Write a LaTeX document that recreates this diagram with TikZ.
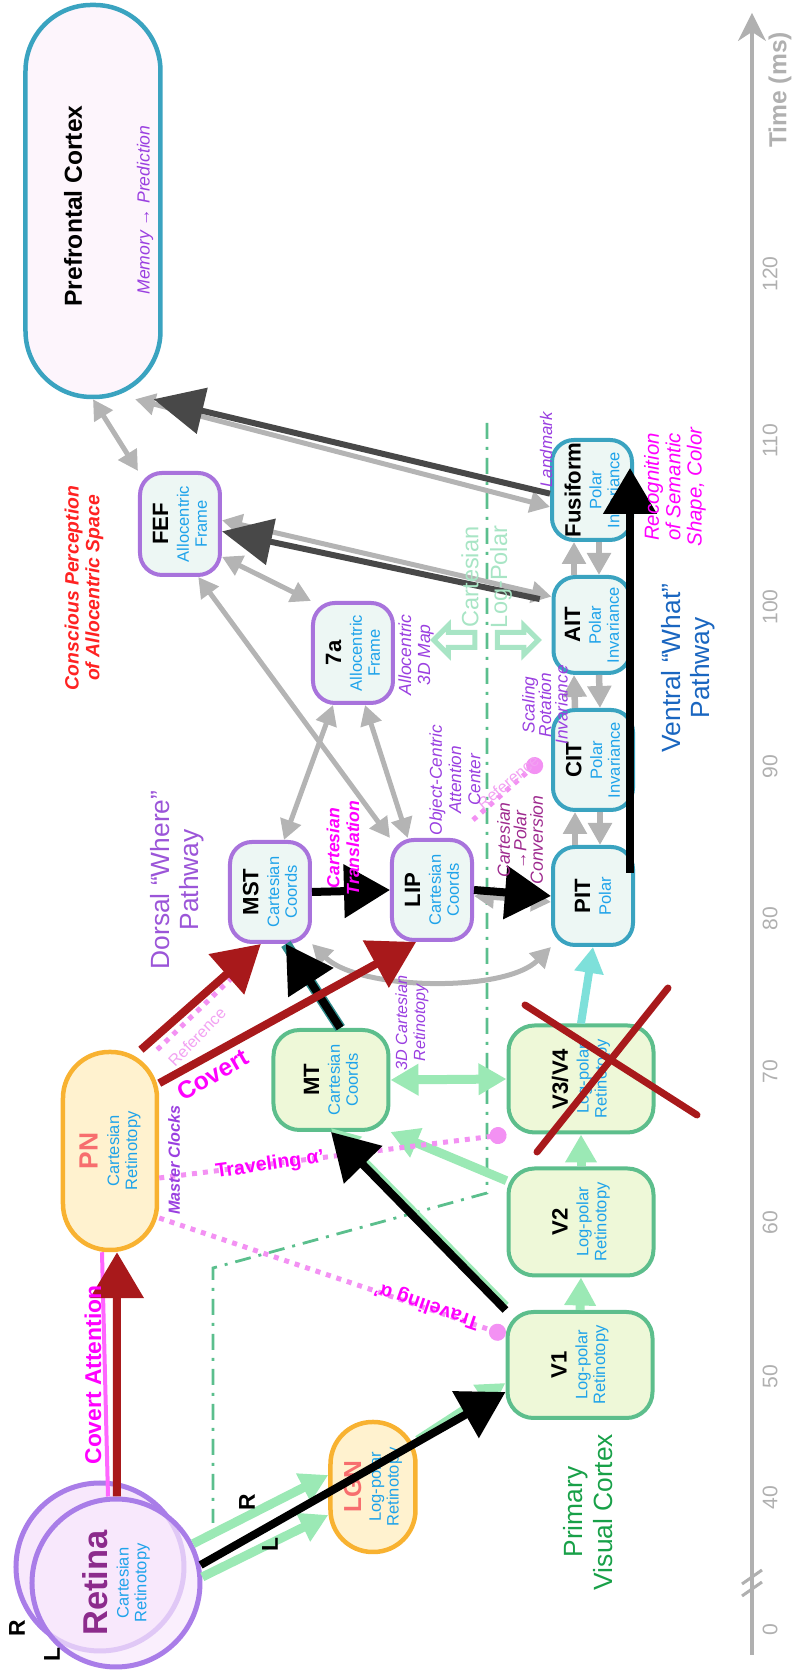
\documentclass[tikz,border=0pt]{standalone}
\usepackage{fontspec}
\setmainfont{Liberation Sans}
\usetikzlibrary{arrows.meta,shapes.arrows}

\definecolor{dorsalC}{HTML}{A873DC}
\definecolor{ventralC}{HTML}{3AA3C0}
\definecolor{earlyC}{HTML}{5DBE8C}
\definecolor{earlyF}{HTML}{EEF8D8}
\definecolor{boxF}{HTML}{EDF7F4}
\definecolor{pnC}{HTML}{F8B231}
\definecolor{pnF}{HTML}{FFF2CF}
\definecolor{pfcF}{HTML}{FDF5FC}
\definecolor{subC}{HTML}{1FA3EA}
\definecolor{retC}{HTML}{A97DE8}
\definecolor{retF}{HTML}{F8E8FC}
\definecolor{retT}{HTML}{8C2B8C}
\definecolor{salmon}{HTML}{F76E6E}
\definecolor{lblPurple}{HTML}{9A3FE0}
\definecolor{lblMag}{HTML}{FF00FF}
\definecolor{convC}{HTML}{9E2A8E}
\definecolor{dotPink}{HTML}{F391F3}
\definecolor{refPink}{HTML}{F2A2F2}
\definecolor{pvcGreen}{HTML}{18A048}
\definecolor{dorsalT}{HTML}{9B55D8}
\definecolor{ventralT}{HTML}{1A66C0}
\definecolor{conscRed}{HTML}{FF2222}
\definecolor{grayArr}{HTML}{B4B4B4}
\definecolor{darkArr}{HTML}{484848}
\definecolor{redArr}{HTML}{A8191B}
\definecolor{greenArr}{HTML}{9BE9B5}
\definecolor{cyanArr}{HTML}{7EE0DA}
\definecolor{tealLine}{HTML}{2E8B8B}
\definecolor{borderLine}{HTML}{5BBF8D}
\definecolor{paleGreen}{HTML}{A8E5C5}
\definecolor{axisGray}{HTML}{B0B0B0}

\newcommand{\subfont}{\fontsize{4.7}{5.1}\selectfont}
\newcommand{\ttl}[1]{{\color{black}\fontsize{6.3}{7}\selectfont\bfseries #1}\\[0.8pt]}

\tikzset{
    area/.style={draw, line width=0.4mm, rounded corners=2.2mm, align=center, inner sep=0pt, text=subC, font=\subfont},
    dorsal/.style={area, draw=dorsalC, fill=boxF},
    ventral/.style={area, draw=ventralC, fill=boxF},
    early/.style={area, draw=earlyC, fill=earlyF, rounded corners=2.6mm},
    relay/.style={area, draw=pnC, fill=pnF, line width=0.45mm},
    eye/.style={circle, draw=retC, line width=0.5mm, fill=retF, minimum size=16.8mm, inner sep=0pt, align=center, text=subC, font=\subfont},
    grayarr/.style={draw=grayArr, line width=0.5mm, >={Triangle[length=2mm, width=2.1mm]}},
    grayladder/.style={draw=grayArr, line width=0.65mm, >={Triangle[length=2.2mm, width=2.3mm]}},
    darkarr/.style={draw=darkArr, line width=0.6mm, >={Triangle[length=5mm, width=4.6mm]}},
    blackarr/.style={draw=black, line width=0.8mm, >={Triangle[length=4.6mm, width=5.2mm]}},
    redarr/.style={draw=redArr, line width=0.8mm, >={Triangle[length=4.6mm, width=5.2mm]}},
    greenarr/.style={draw=greenArr, line width=0.9mm, >={Triangle[length=2.8mm, width=3mm]}},
    cyanarr/.style={draw=cyanArr, line width=0.8mm, >={Triangle[length=2.6mm, width=2.8mm]}},
    refline/.style={draw=dotPink, line width=0.5mm, dash pattern=on 0.5mm off 0.6mm},
    redx/.style={draw=redArr, line width=0.7mm, line cap=round},
    lbl/.style={align=center, inner sep=0pt},
    note/.style={lbl, text=lblPurple, font=\fontsize{4.9}{5.5}\selectfont\itshape},
    tick/.style={lbl, text=axisGray, font=\fontsize{6}{6}\selectfont},
}

\begin{document}
\begin{tikzpicture}[x=0.1mm, y=0.1mm, rotate=90, transform shape]
        \useasboundingbox (0, 0) rectangle (1674, 793);

        % time axis
        \coordinate (t0) at (19, 41);
        \coordinate (t1) at (1661, 41);
        \draw[axisGray, line width=0.35mm, -{Stealth[length=2.8mm, width=2.8mm]}] (t0) -- (t1);
        \draw[axisGray, line width=0.3mm] (78, 51) -- (92, 31) (90, 51) -- (104, 31);
        \foreach \tm/\pos in {0/44, 40/176, 50/297, 60/451, 70/602, 80/755, 90/907, 100/1067, 110/1233, 120/1400}
            \node[tick] (tick\tm) at (\pos, 23) {\tm};
        \node[lbl, text=axisGray, font=\fontsize{7}{7}\selectfont\bfseries] (tlabel) at (1584, 13) {Time (ms)};

        % cartesian / log-polar border
        \draw[borderLine, line width=0.28mm, dash pattern=on 1.6mm off 0.8mm on 0.3mm off 0.8mm] (1251, 306) -- (481, 306) -- (406, 580) -- (151, 580);

        % areas
        \node[area, draw=ventralC, fill=pfcF, line width=0.45mm, rounded corners=6.6mm, minimum width=39.2mm, minimum height=13.5mm] (PFC) at (1473, 700) {};
        \node[dorsal, minimum width=10.2mm, minimum height=8mm] (FEF) at (1150, 613) {\ttl{FEF}Allocentric\\Frame};
        \node[dorsal, minimum width=10mm, minimum height=8mm] (area7a) at (1021, 440) {\ttl{7a}Allocentric\\Frame};
        \node[dorsal, minimum width=10mm, minimum height=8mm] (MST) at (782, 523) {\ttl{MST}Cartesian\\Coords};
        \node[dorsal, minimum width=10mm, minimum height=8mm] (LIP) at (784, 361) {\ttl{LIP}Cartesian\\Coords};
        \node[ventral, minimum width=9.8mm, minimum height=8mm] (PIT) at (778, 200) {\ttl{PIT}Polar};
        \node[ventral, minimum width=10mm, minimum height=8mm] (CIT) at (914, 200) {\ttl{CIT}Polar\\Invariance};
        \node[ventral, minimum width=9.6mm, minimum height=7.7mm] (AIT) at (1049, 201) {\ttl{AIT}Polar\\Invariance};
        \node[ventral, minimum width=10mm, minimum height=8mm] (Fus) at (1184, 201) {\ttl{Fusiform}Polar\\Invariance};
        \node[early, minimum width=10mm, minimum height=11.5mm] (MT) at (594, 462) {\ttl{MT}Cartesian\\Coords};
        \node[early, minimum width=10.6mm, minimum height=14.5mm] (V1) at (309, 213) {\ttl{V1}Log-polar\\Retinotopy};
        \node[early, minimum width=10.7mm, minimum height=14.5mm] (V2) at (452, 212) {\ttl{V2}Log-polar\\Retinotopy};
        \node[early, minimum width=10.7mm, minimum height=14.5mm] (V3V4) at (595, 212) {\ttl{V3/V4}Log-polar\\Retinotopy};
        \node[relay, rounded corners=4.6mm, minimum width=19.8mm, minimum height=9.4mm] (PN) at (523, 683) {{\color{salmon}\fontsize{7.5}{8}\selectfont\bfseries PN}\\[1pt]Cartesian\\Retinotopy};
        \node[relay, rounded corners=4.2mm, minimum width=13mm, minimum height=8.5mm] (LGN) at (187, 420) {{\color{salmon}\fontsize{7}{8}\selectfont\bfseries LGN}\\[0.5pt]Log-polar\\Retinotopy};
        \node[eye] (retR) at (107, 693) {};
        \node[eye, fill opacity=0.7, text opacity=1] (retL) at (91, 677) {{\color{retT}\fontsize{9.8}{10}\selectfont\bfseries Retina}\\[1pt]Cartesian\\Retinotopy};

        % gray links
        \draw[grayarr, <->] (PFC.west) -- (FEF.north east);
        \draw[grayarr, <->] (FEF.-128) -- (area7a.north east);
        \draw[grayarr, <->] (FEF.199) -- (LIP.north east);
        \draw[grayarr, <->] (area7a.159) -- (MST.-15);
        \draw[grayarr, <->] (area7a.193) -- (LIP.25);
        \draw[grayarr, <->] (PFC.192) -- (Fus.112);
        \draw[grayarr, <->] (FEF.-85) -- (AIT.55);
        \draw[grayarr, <->] ([xshift=-0.6mm]LIP.south) -- ([xshift=-0.6mm]PIT.north);
        \draw[grayarr, <->] (MST.south west) to[out=225, in=135, looseness=0.7] (PIT.north west);
        \foreach \lo/\hi in {PIT/CIT, CIT/AIT, AIT/Fus} {
            \draw[grayladder, ->] ([yshift=1.8mm]\lo.east) -- ([yshift=1.8mm]\hi.west);
            \draw[grayladder, ->] ([yshift=-0.7mm]\hi.west) -- ([yshift=-0.7mm]\lo.east);
        }

        % green / cyan links
        \draw[greenarr, ->] (retL.-63) -- ([xshift=1.2mm]LGN.north);
        \draw[greenarr, ->] (retL.-86) -- ([xshift=-2.8mm]LGN.north);
        \draw[greenarr, ->] ([xshift=4.7mm]LGN.south) -- ([xshift=-1.8mm]V1.north);
        \draw[greenarr, ->] (V1.east) -- (V2.west);
        \draw[greenarr, ->] (V2.east) -- (V3V4.west);
        \draw[greenarr, ->] (V2.61) -- (MT.south west);
        \draw[greenarr, <->] (MT.south) -- (V3V4.north);
        \draw[greenarr, ->] ([xshift=0.4mm]V1.north east) -- ([xshift=0.4mm]MT.west);
        \draw[cyanarr, ->] (V3V4.east) -- (PIT.west);

        % pink reference lines
        \coordinate (refEnd) at (704, 553);
        \coordinate (refStart) at (854, 320);
        \draw[refline] (PN.-25) -- (refEnd);
        \draw[refline, -{Circle[length=1.7mm]}] ([xshift=-2.7mm]PN.south) -- (V3V4.north west);
        \draw[refline, -{Circle[length=1.7mm]}] ([xshift=-6.7mm]PN.south) -- ([xshift=3mm]V1.north);
        \draw[refline, -{Circle[length=1.7mm]}] (refStart) -- ([yshift=1mm]CIT.north);
        \draw[lblMag!60, line width=0.4mm] ([yshift=0.8mm]retL.east) -- ([yshift=0.8mm]PN.west);

        % sketched links
        \draw[darkarr, ->] (Fus.95) -- (PFC.197);
        \draw[darkarr, ->, shorten <=1.2mm] (AIT.60) -- (FEF.-100);
        \draw[tealLine, line width=1.1mm] (MT.-10) -- (MST.197);
        \draw[blackarr, ->] (MT.-10) -- (MST.197);
        \draw[blackarr, ->] (MST.south) -- (LIP.north);
        \draw[blackarr, ->] (LIP.south) -- (PIT.north);
        \draw[blackarr, ->] (V1.north east) -- (MT.west);
        \draw[blackarr, ->] (retL.-78) -- ([xshift=-2.7mm]V1.north);
        \draw[blackarr, ->] ([xshift=2.3mm, yshift=0.5mm]PIT.south) -- ([xshift=2.2mm, yshift=0.4mm]Fus.south);
        \draw[redarr, ->] ([yshift=-0.1mm]retL.east) -- ([yshift=-0.7mm]PN.west);
        \draw[redarr, ->] (PN.-17) -- (MST.170);
        \draw[redarr, ->] (PN.-36) -- (LIP.163);
        \draw[redx] ([shift={(-73, 44)}]V3V4.center) -- ([shift={(91, -87)}]V3V4.center);
        \draw[redx] ([shift={(74, 56)}]V3V4.center) -- ([shift={(-36, -116)}]V3V4.center);

        % texts
        \node[lbl, font=\fontsize{7}{7}\selectfont\bfseries] (pfcName) at (1468, 720) {Prefrontal Cortex};
        \node[note, font=\fontsize{5}{5}\selectfont\itshape] (pfcNote) at (1464, 648) {Memory → Prediction};
        \node[lbl, text=conscRed, font=\fontsize{5.5}{5.9}\selectfont\bfseries\itshape] (consc) at (1086, 709) {Conscious Perception\\of Allocentric Space};
        \node[lbl, text=dorsalT, font=\fontsize{7.5}{8.3}\selectfont] (dorsalName) at (794, 616) {Dorsal “Where”\\Pathway};
        \node[lbl, text=ventralT, font=\fontsize{7.5}{8.3}\selectfont] (ventralName) at (1006, 105) {Ventral “What”\\Pathway};
        \node[lbl, text=pvcGreen, font=\fontsize{7.5}{8.3}\selectfont] (pvcName) at (162, 205) {Primary\\Visual Cortex};
        \node[lbl, text=lblMag, font=\fontsize{6.5}{6.5}\selectfont\bfseries] (covAtt) at (299, 700) {Covert Attention};
        \node[lbl, text=lblMag, font=\fontsize{7}{7}\selectfont\bfseries, rotate=-60] (covert) at (599, 580) {Covert};
        \node[lbl, text=refPink, font=\fontsize{4.6}{4.6}\selectfont, rotate=-44] (refA) at (637, 596) {Reference};
        \node[lbl, text=refPink, font=\fontsize{4.6}{4.6}\selectfont, rotate=-50] (refB) at (892, 285) {Reference};
        \node[lbl, text=lblMag, font=\fontsize{5.6}{5.6}\selectfont\bfseries, rotate=-82] (travA) at (509, 523) {Traveling α’};
        \node[lbl, text=lblMag, font=\fontsize{5.6}{5.6}\selectfont\bfseries, rotate=71] (travB) at (369, 366) {Traveling α’};
        \node[note, font=\fontsize{4.6}{4.6}\selectfont\bfseries\itshape] (clocks) at (514, 619) {Master Clocks};
        \node[note, font=\fontsize{4.6}{5.1}\selectfont\itshape] (cart3d) at (651, 381) {3D Cartesian\\Retinotopy};
        \node[lbl, text=lblMag, font=\fontsize{5}{5.6}\selectfont\bfseries\itshape] (transl) at (826, 450) {Cartesian\\Translation};
        \node[note, font=\fontsize{4.9}{5.5}\selectfont\itshape] (objc) at (894, 338) {Object-Centric\\Attention\\Center};
        \node[lbl, text=convC, font=\fontsize{5}{4.7}\selectfont\itshape] (conv) at (834, 273) {Cartesian\\→Polar\\Conversion};
        \node[note, font=\fontsize{4.9}{4.7}\selectfont\itshape] (scal) at (969, 248) {Scaling\\Rotation\\Invariance};
        \node[note, font=\fontsize{5}{5.4}\selectfont\itshape] (allo) at (1019, 377) {Allocentric\\3D Map};
        \node[note, font=\fontsize{4.8}{4.8}\selectfont\itshape] (landm) at (1224, 247) {Landmark};
        \node[lbl, text=lblMag, font=\fontsize{5.8}{6.1}\selectfont\itshape] (recog) at (1187, 118) {Recognition\\of Semantic\\Shape, Color};
        \node[lbl, text=paleGreen, font=\fontsize{6.7}{6.7}\selectfont] (cartSide) at (1097, 323) {Cartesian};
        \node[lbl, text=paleGreen, font=\fontsize{6.7}{6.7}\selectfont] (logSide) at (1097, 292) {Log-Polar};
        \node[single arrow, draw=paleGreen, line width=0.5mm, fill=white, inner sep=0.5mm, minimum height=4.1mm, single arrow head extend=0.7mm, shape border rotate=90] (toCart) at (1034, 335) {};
        \node[single arrow, draw=paleGreen, line width=0.5mm, fill=white, inner sep=0.5mm, minimum height=4.1mm, single arrow head extend=0.7mm, shape border rotate=270] (toLog) at (1034, 279) {};
        \node[lbl, font=\fontsize{6.5}{6.5}\selectfont\bfseries] (eyeR) at (46, 776) {R};
        \node[lbl, font=\fontsize{6.5}{6.5}\selectfont\bfseries] (eyeL) at (19, 741) {L};
        \node[lbl, font=\fontsize{6.5}{6.5}\selectfont\bfseries] (pathR) at (172, 546) {R};
        \node[lbl, font=\fontsize{6.5}{6.5}\selectfont\bfseries] (pathL) at (129, 523) {L};
\end{tikzpicture}
\end{document}
